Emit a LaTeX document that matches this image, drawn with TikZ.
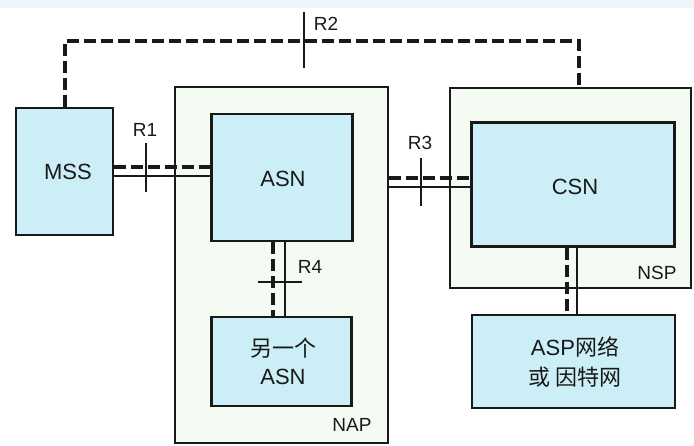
\documentclass[tikz,border=0pt]{standalone}
\usepackage{fontspec}
\setmainfont{Liberation Sans}
\newfontfamily\cjk{Noto Sans CJK SC}
\definecolor{boxfill}{RGB}{204,238,246}
\definecolor{areafill}{RGB}{243,251,243}
\definecolor{ink}{RGB}{25,25,25}
\definecolor{topband}{RGB}{238,245,251}
\begin{document}
\begin{tikzpicture}[x=1pt,y=-1pt,
  box/.style={draw=ink, line width=2.8pt, fill=boxfill, inner sep=0pt},
  area/.style={draw=ink, line width=2.4pt, fill=areafill, inner sep=0pt},
  dashline/.style={draw=ink, line width=3.6pt, dash pattern=on 12pt off 5pt},
  thinline/.style={draw=ink, line width=1.6pt},
  tickline/.style={draw=ink, line width=2pt},
  lbl/.style={font=\fontsize{19}{22}\selectfont, inner sep=0pt, text=ink},
  boxtext/.style={font=\fontsize{22}{28}\selectfont, inner sep=0pt, text=ink, align=center}]
\useasboundingbox (0,0) rectangle (694,445);
\fill[white] (0,0) rectangle (694,445);
\fill[topband] (0,0) rectangle (694,8);
% areas
\node[area, minimum width=213pt, minimum height=356pt] (nap) at (281.5,265) {};
\node[area, minimum width=241pt, minimum height=200pt] (nsp) at (570.5,188) {};
% boxes
\node[box, minimum width=97pt, minimum height=127pt] (mss) at (64.5,171.5) {};
\node[box, minimum width=141pt, minimum height=127pt] (asn) at (282,177.5) {};
\node[box, minimum width=140pt, minimum height=89pt] (asn2) at (281.5,361.5) {};
\node[box, minimum width=203pt, minimum height=124pt] (csn) at (573,184.5) {};
\node[box, minimum width=203pt, minimum height=93pt] (asp) at (573.5,361.5) {};
% level coordinates
\coordinate (r1d) at (0,167);
\coordinate (r1s) at (0,176);
\coordinate (r3d) at (0,178);
\coordinate (r3s) at (0,187);
\coordinate (r4d) at (273,0);
\coordinate (r4s) at (285,0);
\coordinate (cad) at (567,0);
\coordinate (cas) at (577,0);
\coordinate (r2l) at (65,41);
\coordinate (r2r) at (579,41);
% connectors
\draw[dashline] (mss.east |- r1d) -- (asn.west |- r1d);
\draw[thinline] (mss.east |- r1s) -- (asn.west |- r1s);
\draw[dashline] (nap.east |- r3d) -- (csn.west |- r3d);
\draw[thinline] (nap.east |- r3s) -- (csn.west |- r3s);
\draw[dashline] (asn.south -| r4d) -- (asn2.north -| r4d);
\draw[thinline] (asn.south -| r4s) -- (asn2.north -| r4s);
\draw[dashline] (csn.south -| cad) -- (asp.north -| cad);
\draw[thinline] (csn.south -| cas) -- (asp.north -| cas);
\draw[dashline] (mss.north -| r2l) -- (r2l) -- (r2r) -- (r2r |- nsp.north);
% box texts
\node[boxtext] (tmss) at (68,172) {MSS};
\node[boxtext] (tasn) at (283,179) {ASN};
\node[boxtext] (tcsn) at (575,187) {CSN};
\node[boxtext] (tasn2) at (283,361) {{\cjk 另一个}\\ASN};
\node[boxtext, font=\fontsize{22}{30}\selectfont] (tasp) at (575,362) {ASP{\cjk 网络}\\{\cjk 或 因特网}};
% ticks
\coordinate (t1a) at (146,143); \coordinate (t1b) at (146,192);
\coordinate (t2a) at (304,12);  \coordinate (t2b) at (304,68);
\coordinate (t3a) at (421,158); \coordinate (t3b) at (421,206);
\coordinate (t4a) at (258,282); \coordinate (t4b) at (302,282);
\draw[tickline] (t1a) -- (t1b);
\draw[tickline] (t2a) -- (t2b);
\draw[tickline] (t3a) -- (t3b);
\draw[tickline] (t4a) -- (t4b);
% labels
\node[lbl] (lr1) at (145,130) {R1};
\node[lbl] (lr2) at (326,24) {R2};
\node[lbl] (lr3) at (420,143) {R3};
\node[lbl] (lr4) at (310,267) {R4};
\node[lbl] (lnap) at (352,425) {NAP};
\node[lbl] (lnsp) at (657,273) {NSP};
\end{tikzpicture}
\end{document}
